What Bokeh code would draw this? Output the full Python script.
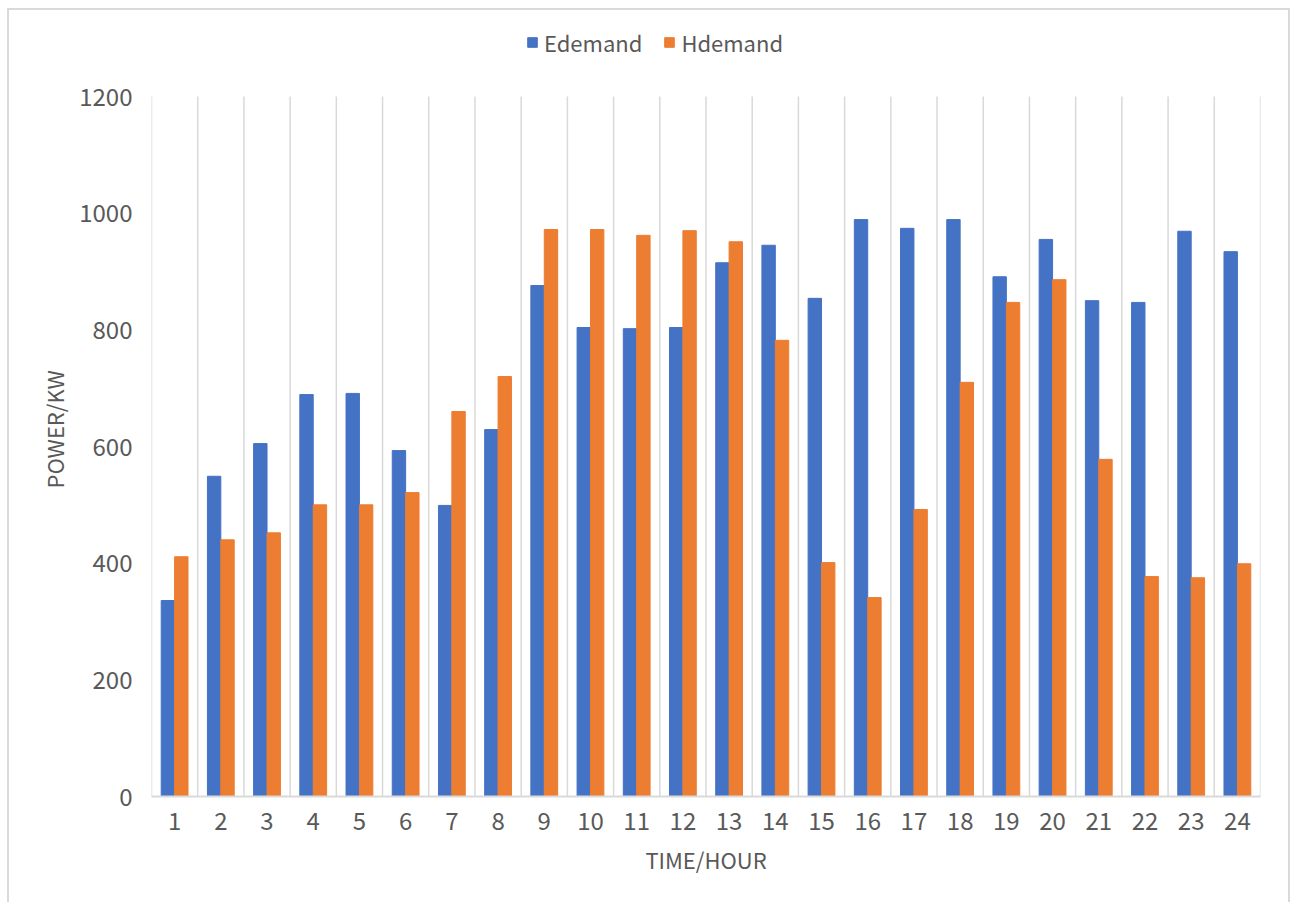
from bokeh.plotting import figure
from bokeh.models import ColumnDataSource, FixedTicker, Legend, LegendItem, Title
from bokeh.transform import dodge
from bokeh.embed import file_html
from bokeh.resources import INLINE

hours = list(range(1, 25))
edemand = [336, 549, 605, 689, 691, 593, 499, 629, 876, 804, 802, 804,
           915, 945, 854, 989, 974, 989, 891, 955, 850, 847, 969, 934]
hdemand = [411, 440, 452, 500, 500, 521, 660, 720, 972, 972, 962, 970,
           951, 782, 401, 341, 492, 710, 847, 886, 578, 377, 375, 399]
y_ticks = [0, 200, 400, 600, 800, 1000, 1200]

FONT = "Noto Sans CJK SC"
GRAY = "#595959"
GRID = "#d9d9d9"

FIG_W, FIG_H = 1296, 902
TOP, BOTTOM, LEFT, RIGHT = 96, 106, 151, 36
frame_h = FIG_H - BOTTOM
y_max = y_ticks[-1]
# frame reaches the top of the figure so the legend can sit above the value area
y_end = y_max * frame_h / (frame_h - TOP)

src = ColumnDataSource(dict(x=hours, e=edemand, h=hdemand))
bounds = [h - 0.5 for h in hours] + [hours[-1] + 0.5]
gsrc = ColumnDataSource(dict(x=bounds, y0=[0] * len(bounds), y1=[y_max] * len(bounds)))

p = figure(width=FIG_W, height=FIG_H, output_backend="svg", toolbar_location=None,
           x_range=(0.5, 24.5), y_range=(0, y_end),
           min_border_left=LEFT, min_border_right=RIGHT, min_border_top=0,
           min_border_bottom=BOTTOM)
p.outline_line_color = None
p.background_fill_color = None
p.border_fill_color = None
p.xgrid.grid_line_color = None
p.ygrid.grid_line_color = None
# outer chart border (top, left, right) drawn as CSS background lines
p.styles = {
    "background-color": "white",
    "background-image": "linear-gradient(#d9d9d9,#d9d9d9), linear-gradient(#d9d9d9,#d9d9d9), linear-gradient(#d9d9d9,#d9d9d9)",
    "background-size": "2px 900px, 2px 900px, 1283px 2px",
    "background-position": "7px 8px, 1288px 8px, 7px 8px",
    "background-repeat": "no-repeat",
}

# vertical category grid lines
p.segment(x0="x", y0="y0", x1="x", y1="y1", source=gsrc, line_color=GRID, line_width=1.5)

rE = p.vbar(x=dodge("x", -0.145, range=p.x_range), top="e", width=0.29, bottom=0,
            source=src, fill_color="#4472C4", line_color="#4472C4")
rH = p.vbar(x=dodge("x", 0.145, range=p.x_range), top="h", width=0.29, bottom=0,
            source=src, fill_color="#ED7D31", line_color="#ED7D31")

p.xaxis.ticker = FixedTicker(ticks=hours)
p.yaxis.ticker = FixedTicker(ticks=y_ticks)
p.yaxis.bounds = (0, y_max)
for ax in (p.xaxis[0], p.yaxis[0]):
    ax.major_tick_line_color = None
    ax.minor_tick_line_color = None
    ax.major_tick_out = 0
    ax.major_tick_in = 0
    ax.minor_tick_out = 0
    ax.major_label_text_font = FONT
    ax.major_label_text_font_size = "24px"
    ax.major_label_text_color = GRAY
p.xaxis.axis_line_color = GRID
p.xaxis.axis_line_width = 2
p.yaxis.axis_line_color = None
p.xaxis.axis_label = "TIME/HOUR"
p.xaxis.axis_label_text_font = FONT
p.xaxis.axis_label_text_font_size = "22px"
p.xaxis.axis_label_text_color = GRAY
p.xaxis.axis_label_text_font_style = "normal"
p.xaxis.major_label_standoff = 15
p.xaxis.axis_label_standoff = 10
p.yaxis.major_label_standoff = 19

# y axis title: starts 308px above the frame bottom, reading upwards
ytitle = Title(text="POWER/KW", align="left", offset=308, standoff=14,
               text_font=FONT, text_font_size="22px", text_color=GRAY,
               text_font_style="normal")
p.add_layout(ytitle, "left")

legend = Legend(items=[LegendItem(label="Edemand", renderers=[rE]),
                       LegendItem(label="Hdemand", renderers=[rH])],
                location=(375, 738), orientation="horizontal",
                label_text_font=FONT, label_text_font_size="22px", label_text_color=GRAY,
                glyph_width=12, glyph_height=12, spacing=21, padding=0, margin=0,
                border_line_color=None, background_fill_alpha=0, label_standoff=6)
p.add_layout(legend, "center")

open("out.html", "w").write(file_html(p, INLINE))
